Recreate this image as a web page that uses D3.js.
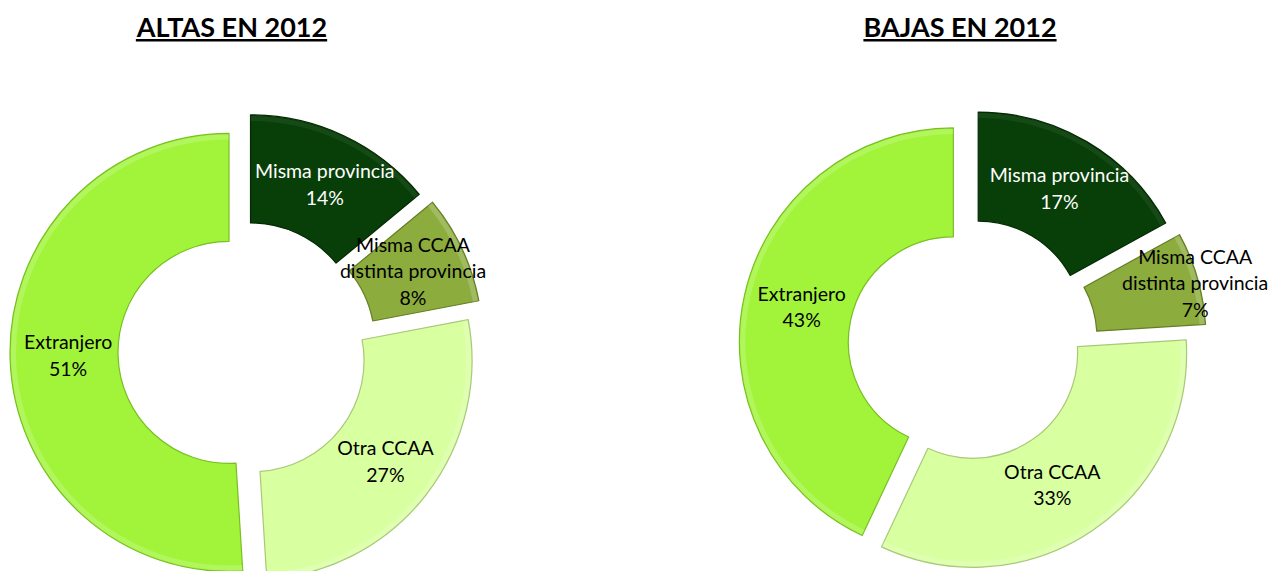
<!DOCTYPE html>
<html>
<head>
<meta charset="utf-8">
<script src="https://cdn.jsdelivr.net/npm/d3@7"></script>
<style>
  body { margin: 0; background: #fff; }
  svg { display: block; }
</style>
</head>
<body>
<svg id="chart"></svg>
<script>
// data
const categories = ["Misma provincia", "Misma CCAA distinta provincia", "Otra CCAA", "Extranjero"];
const labelLines = [["Misma provincia"], ["Misma CCAA", "distinta provincia"], ["Otra CCAA"], ["Extranjero"]];
const altasValues = [14, 8, 27, 51];
const bajasValues = [17, 7, 33, 43];
const titles = ["ALTAS EN 2012", "BAJAS EN 2012"];

// style
const colors = ["#083e08", "#8cac3e", "#d8ffa0", "#a2f43a"];
const textColors = ["#ffffff", "#000000", "#000000", "#000000"];
const strokeColors = ["#042a04", "#647e24", "#a9c879", "#78bf22"];

const width = 1268;
const height = 571;

const svg = d3.select('#chart')
  .attr('width', width)
  .attr('height', height);

// one donut per panel
const panels = [
  { title: titles[0], values: altasValues, cx: 242, cy: 352, R: 219, r: 111, titleX: 232,
    explode: [20, 24, 14, 13], nudge: [[4, 0], [0, 0], [2, 0], [4, -2]] },
  { title: titles[1], values: bajasValues, cx: 967, cy: 345, R: 214, r: 105, titleX: 960,
    explode: [22, 26, 10, 14], nudge: [[0, 0], [50, -10], [-10, 0], [4, 0]] }
];

const pie = d3.pie().sort(null).value(d => d);

panels.forEach(function(p) {
  // title with underline
  const t = svg.append('text')
    .attr('x', p.titleX)
    .attr('y', 37)
    .attr('text-anchor', 'middle')
    .style('font-family', 'Lato, "Open Sans", sans-serif')
    .style('font-weight', 'bold')
    .style('font-size', '27px')
    .attr('fill', '#000')
    .text(p.title);
  const bb = t.node().getBBox();
  svg.append('rect')
    .attr('x', bb.x)
    .attr('y', 39)
    .attr('width', bb.width)
    .attr('height', 2.5)
    .attr('fill', '#000');

  const arc = d3.arc().innerRadius(p.r).outerRadius(p.R);
  const midR = (p.r + p.R) / 2;
  const arcs = pie(p.values);

  const g = svg.append('g')
    .attr('transform', `translate(${p.cx}, ${p.cy})`);

  const slice = g.selectAll('g.slice')
    .data(arcs)
    .enter()
    .append('g')
    .attr('class', 'slice')
    .attr('transform', (d, i) => {
      const a = (d.startAngle + d.endAngle) / 2;
      const e = p.explode[i];
      return `translate(${Math.sin(a) * e}, ${-Math.cos(a) * e})`;
    });

  slice.append('path')
    .attr('d', arc)
    .attr('fill', (d, i) => colors[i])
    .attr('stroke', (d, i) => strokeColors[i])
    .attr('stroke-width', 1.2)
    .attr('stroke-linejoin', 'round');

  // soft highlight along the outer edge
  slice.append('path')
    .attr('d', d3.arc().innerRadius(p.R - 6).outerRadius(p.R - 1))
    .attr('fill', '#ffffff')
    .attr('opacity', (d, i) => i === 0 ? 0.06 : 0.18);

  const label = slice.append('text')
    .attr('text-anchor', 'middle')
    .style('font-family', 'Lato, "Open Sans", sans-serif')
    .style('font-size', '19.5px')
    .attr('fill', (d, i) => textColors[i])
    .attr('transform', (d, i) => {
      const a = (d.startAngle + d.endAngle) / 2;
      return `translate(${Math.sin(a) * midR + p.nudge[i][0]}, ${-Math.cos(a) * midR + p.nudge[i][1]})`;
    });

  label.each(function(d, i) {
    const lines = labelLines[i].concat([`${d.data}%`]);
    const lh = 26.5;
    const top = -(lines.length - 1) * lh / 2;
    d3.select(this).selectAll('tspan')
      .data(lines)
      .enter()
      .append('tspan')
      .attr('x', 0)
      .attr('y', (s, k) => top + k * lh)
      .attr('dy', '0.35em')
      .text(s => s);
  });
});
</script>
</body>
</html>
